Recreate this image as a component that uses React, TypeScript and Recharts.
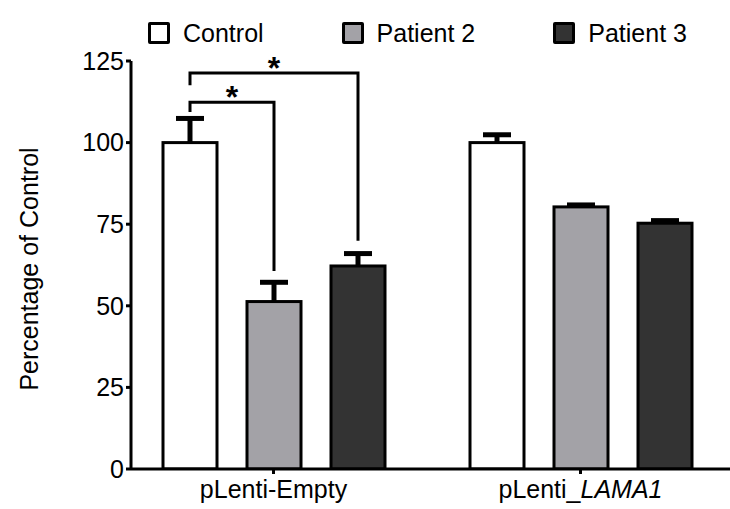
import React from "react"
import { BarChart, Bar, XAxis, YAxis, Legend, LabelList, Label } from "recharts"

const categories = ["pLenti-Empty", "pLenti_LAMA1"]
const seriesNames = ["Control", "Patient 2", "Patient 3"]
const control = [100, 100]
const controlErr = [7.4, 2.4]
const patient2 = [51.3, 80.3]
const patient2Err = [5.9, 0.6]
const patient3 = [62.2, 75.3]
const patient3Err = [3.8, 0.8]
const yTicks = [0, 25, 50, 75, 100, 125]

// significance brackets, drawn from the Control bar of the first group
const bracketTargets = [1, 2] // series index of the bar the bracket ends on
const bracketLevels = [112.4, 121.3]
const bracketLeftEnds = [109.4, 117.6]
const bracketRightEnds = [60.7, 69.9]
const bracketLabels = ["*", "*"]

const FONT = '"Liberation Sans", Arial, Helvetica, sans-serif'
const COLORS = ["#ffffff", "#a3a2a7", "#333333"]
const BAR_SIZE = 54
const BAR_GAP = 30

const rows = categories.map((name, i) => ({
    name,
    control: control[i],
    controlErr: controlErr[i],
    patient2: patient2[i],
    patient2Err: patient2Err[i],
    patient3: patient3[i],
    patient3Err: patient3Err[i],
}))

// bar with a one-sided (upper) error bar, scaled from the bar's own pixel height
function BarWithError(props: any) {
    const { x, y, width, height, fill, payload, errKey, valueKey } = props
    const value = payload[valueKey]
    const err = payload[errKey]
    const ppu = value ? height / value : 0
    const cx = x + width / 2
    const yErr = y - err * ppu
    return (
        <g>
            <line x1={cx} x2={cx} y1={y} y2={yErr} stroke="#000" strokeWidth={5} />
            <line x1={cx - 14} x2={cx + 14} y1={yErr} y2={yErr} stroke="#000" strokeWidth={5} />
            <rect x={x} y={y} width={width} height={height} fill={fill} stroke="#000" strokeWidth={3} />
        </g>
    )
}

function Brackets(props: any) {
    const { index, value } = props
    const vb = props.viewBox || {}
    const x = props.x ?? vb.x
    const y = props.y ?? vb.y
    const width = props.width ?? vb.width
    const height = props.height ?? vb.height
    if (index !== 0 || !value) return null
    const base = y + height
    const ppu = height / value
    const py = (v: number) => base - v * ppu
    const x0 = x + width / 2
    return (
        <g>
            {bracketLevels.map((lvl, i) => {
                const x1 = x0 + bracketTargets[i] * (BAR_SIZE + BAR_GAP)
                const top = py(lvl)
                return (
                    <g key={i}>
                        <path
                            d={`M${x0},${py(bracketLeftEnds[i])} L${x0},${top} L${x1},${top} L${x1},${py(bracketRightEnds[i])}`}
                            fill="none"
                            stroke="#000"
                            strokeWidth={3}
                        />
                        <text
                            x={(x0 + x1) / 2}
                            y={top + 6}
                            textAnchor="middle"
                            fontSize={32}
                            fontWeight="bold"
                            fill="#000"
                            fontFamily={FONT}
                        >
                            {bracketLabels[i]}
                        </text>
                    </g>
                )
            })}
        </g>
    )
}

function CategoryTick({ x, y, payload }: any) {
    const label: string = payload.value
    const cut = label.indexOf("_")
    return (
        <text x={x} y={y} dy="0.71em" textAnchor="middle" fontSize={25} fill="#000" fontFamily={FONT}>
            {cut < 0 ? (
                label
            ) : (
                <>
                    <tspan>{label.slice(0, cut + 1)}</tspan>
                    <tspan fontStyle="italic">{label.slice(cut + 1)}</tspan>
                </>
            )}
        </text>
    )
}

function LegendContent({ payload }: any) {
    return (
        <div style={{ display: "flex", alignItems: "center", height: 30, paddingLeft: 148, fontFamily: FONT, whiteSpace: "nowrap" }}>
            {(payload || []).map((entry: any, i: number) => (
                <div key={i} style={{ display: "flex", alignItems: "center", marginRight: 78, flexShrink: 0 }}>
                    <span
                        style={{
                            display: "inline-block",
                            flexShrink: 0,
                            width: 16,
                            height: 16,
                            border: "3px solid #000",
                            borderRadius: 2,
                            background: entry.color,
                            marginRight: 13,
                        }}
                    />
                    <span style={{ fontSize: 25, color: "#000", lineHeight: "30px" }}>{entry.value}</span>
                </div>
            ))}
        </div>
    )
}

export default function App() {
    return (
        <div style={{ position: "fixed", left: 0, top: 0, width: 730, height: 509, background: "#fff" }}>
            <BarChart
                width={730}
                height={509}
                data={rows}
                margin={{ top: 31, right: 0, bottom: 0, left: 0 }}
                barSize={BAR_SIZE}
                barGap={BAR_GAP}
                style={{ fontFamily: FONT }}
            >
                <Legend
                    verticalAlign="top"
                    content={<LegendContent />}
                    wrapperStyle={{ top: 18, left: 0, width: 730 }}
                />
                <XAxis
                    dataKey="name"
                    height={40}
                    padding={{ left: -11, right: -4 }}
                    axisLine={{ stroke: "#000", strokeWidth: 3 }}
                    tickLine={{ stroke: "#000", strokeWidth: 3 }}
                    tickSize={5}
                    tickMargin={6}
                    tick={<CategoryTick />}
                    interval={0}
                />
                <YAxis
                    width={131}
                    domain={[0, 125]}
                    ticks={yTicks}
                    allowDataOverflow
                    axisLine={{ stroke: "#000", strokeWidth: 3 }}
                    tickLine={{ stroke: "#000", strokeWidth: 3 }}
                    tickSize={5}
                    tickMargin={2}
                    tick={{ fontSize: 25, fill: "#000", fontFamily: FONT }}
                >
                    <Label
                        content={({ viewBox }: any) => {
                            const cx = 38
                            const cy = viewBox.y + viewBox.height / 2 + 4
                            return (
                                <text
                                    x={cx}
                                    y={cy}
                                    transform={`rotate(-90, ${cx}, ${cy})`}
                                    textAnchor="middle"
                                    fontSize={25}
                                    fill="#000"
                                    fontFamily={FONT}
                                >
                                    Percentage of Control
                                </text>
                            )
                        }}
                    />
                </YAxis>
                <Bar
                    dataKey="control"
                    name={seriesNames[0]}
                    fill={COLORS[0]}
                    stroke="#000"
                    isAnimationActive={false}
                    shape={(p: any) => <BarWithError {...p} valueKey="control" errKey="controlErr" />}
                >
                    <LabelList dataKey="control" content={<Brackets />} />
                </Bar>
                <Bar
                    dataKey="patient2"
                    name={seriesNames[1]}
                    fill={COLORS[1]}
                    stroke="#000"
                    isAnimationActive={false}
                    shape={(p: any) => <BarWithError {...p} valueKey="patient2" errKey="patient2Err" />}
                />
                <Bar
                    dataKey="patient3"
                    name={seriesNames[2]}
                    fill={COLORS[2]}
                    stroke="#000"
                    isAnimationActive={false}
                    shape={(p: any) => <BarWithError {...p} valueKey="patient3" errKey="patient3Err" />}
                />
            </BarChart>
        </div>
    )
}
